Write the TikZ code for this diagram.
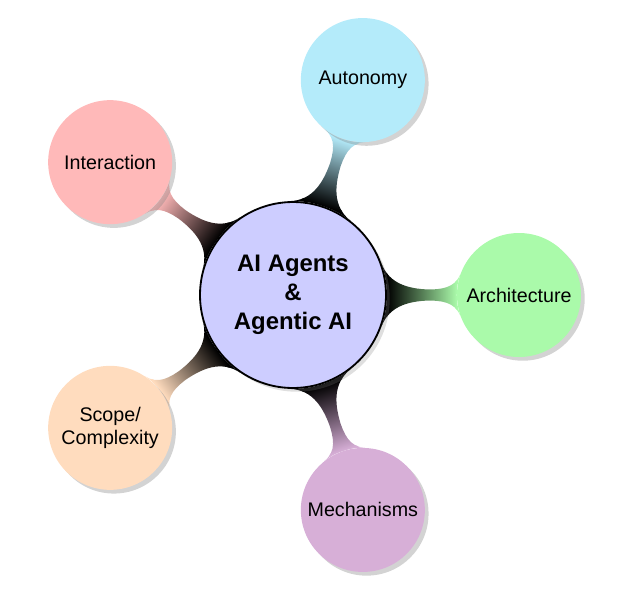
\documentclass[tikz,border=0pt]{standalone}
\usepackage{fontspec}
\setmainfont{Liberation Sans}
\usetikzlibrary{mindmap,shadows,backgrounds}

\definecolor{rootcol}{RGB}{205,205,255}
\definecolor{autocol}{RGB}{180,235,250}
\definecolor{intercol}{RGB}{255,185,185}
\definecolor{archcol}{RGB}{170,250,170}
\definecolor{scopecol}{RGB}{255,220,190}
\definecolor{mechcol}{RGB}{215,175,215}

\tikzset{
  bubble/.style={circle, minimum size=3.1cm, inner sep=0pt, align=center,
    text width={}, drop shadow={opacity=0.35}, font=\fontsize{14}{16.5}\selectfont},
  hub/.style={circle, minimum size=4.65cm, inner sep=0pt, align=center,
    text width={}, draw=black, line width=1.3pt, fill=rootcol, drop shadow={opacity=0.25},
    font=\fontsize{17}{20.5}\selectfont\bfseries}
}

\begin{document}
\begin{tikzpicture}
\useasboundingbox (-7.325,7.375) rectangle (8.475,-7.425);
\def\d{5.65}
% central concept
\node[hub] (root) at (0,0) {AI Agents\\\&\\Agentic AI};

% five branches
\node[bubble, fill=autocol] (autonomy) at (72:\d) {Autonomy};
\node[bubble, fill=intercol] (interaction) at (144:\d) {Interaction};
\node[bubble, fill=archcol] (architecture) at (0:\d) {Architecture};
\node[bubble, fill=scopecol] (scope) at (216:\d) {Scope/\\Complexity};
\node[bubble, fill=mechcol] (mechanisms) at (288:\d) {Mechanisms};

% connections
\begin{pgfonlayer}{background}
\path (root) to[circle connection bar switch color=from (black) to (autocol)] (autonomy);
\path (root) to[circle connection bar switch color=from (black) to (intercol)] (interaction);
\path (root) to[circle connection bar switch color=from (black) to (archcol)] (architecture);
\path (root) to[circle connection bar switch color=from (black) to (scopecol)] (scope);
\path (root) to[circle connection bar switch color=from (black) to (mechcol)] (mechanisms);
\end{pgfonlayer}
\end{tikzpicture}
\end{document}
